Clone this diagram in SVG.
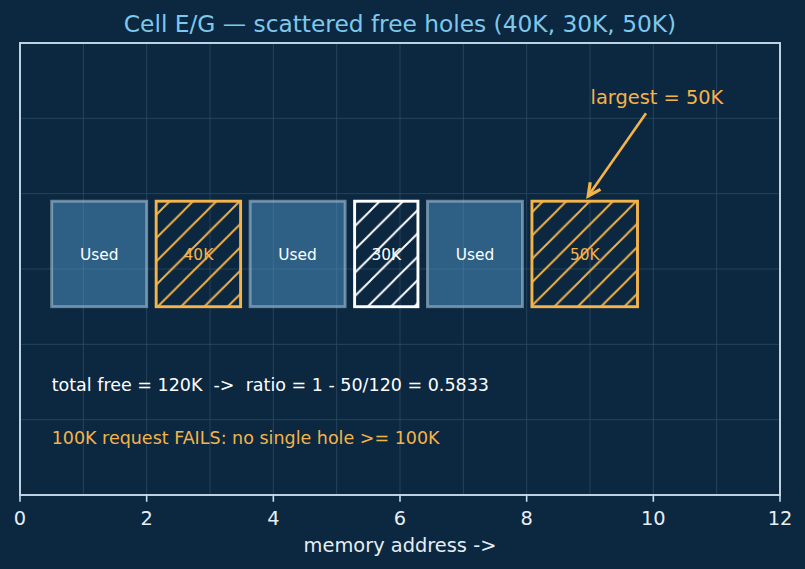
<svg xmlns="http://www.w3.org/2000/svg" width="805" height="569" viewBox="0 0 805 569">
<style>
  text { font-family: "DejaVu Sans", "Liberation Sans", sans-serif; }
  .grid { stroke: #2f4f68; stroke-width: 0.9; opacity: 0.8; }
  .spine { stroke: #c6dcec; stroke-width: 1.9; fill: none; }
  .tick { stroke: #c6dcec; stroke-width: 1.6; }
  .ticklbl { font-size: 19.4px; fill: #e6eef5; text-anchor: middle; }
  .used rect { fill: #4a8fbf; fill-opacity: 0.55; stroke: #a6c2d6; stroke-opacity: 0.6; stroke-width: 2.9; }
  .used text { font-size: 15.4px; fill: #ffffff; text-anchor: middle; }
  .freeO rect { fill: url(#hatchO); stroke: #f4b44a; stroke-width: 2.9; }
  .freeW rect { fill: url(#hatchW); stroke: #ffffff; stroke-width: 2.9; }
  .freeO text { font-size: 15.4px; fill: #f4b44a; text-anchor: middle; }
  .freeW text { font-size: 15.4px; fill: #ffffff; text-anchor: middle; }
  .note { font-size: 17.5px; }
</style>
<defs>
  <pattern id="hatchO" patternUnits="userSpaceOnUse" x="-2.333" y="0" width="23.333" height="23.333">
    <path d="M-5,5 L5,-5 M0,23.333 L23.333,0 M18.333,28.333 L28.333,18.333" stroke="#f4b44a" stroke-width="1.9"/>
  </pattern>
  <pattern id="hatchW" patternUnits="userSpaceOnUse" x="-2.333" y="0" width="23.333" height="23.333">
    <path d="M-5,5 L5,-5 M0,23.333 L23.333,0 M18.333,28.333 L28.333,18.333" stroke="#ffffff" stroke-width="1.9"/>
  </pattern>
  <marker id="arr" markerUnits="userSpaceOnUse" markerWidth="20" markerHeight="20" viewBox="-12 -8 14 16" refX="0" refY="0" orient="auto">
    <path d="M-10,-5 L0,0 L-10,5" fill="none" stroke="#f4b44a" stroke-width="2.6" stroke-linejoin="miter"/>
  </marker>
</defs>
<rect x="0" y="0" width="805" height="569" fill="#0c2740"/>

<g id="grid">
  <line class="grid" x1="83.33" y1="43" x2="83.33" y2="495"/>
  <line class="grid" x1="146.67" y1="43" x2="146.67" y2="495"/>
  <line class="grid" x1="210" y1="43" x2="210" y2="495"/>
  <line class="grid" x1="273.33" y1="43" x2="273.33" y2="495"/>
  <line class="grid" x1="336.67" y1="43" x2="336.67" y2="495"/>
  <line class="grid" x1="400" y1="43" x2="400" y2="495"/>
  <line class="grid" x1="463.33" y1="43" x2="463.33" y2="495"/>
  <line class="grid" x1="526.67" y1="43" x2="526.67" y2="495"/>
  <line class="grid" x1="590" y1="43" x2="590" y2="495"/>
  <line class="grid" x1="653.33" y1="43" x2="653.33" y2="495"/>
  <line class="grid" x1="716.67" y1="43" x2="716.67" y2="495"/>
  <line class="grid" x1="20" y1="118.33" x2="780" y2="118.33"/>
  <line class="grid" x1="20" y1="193.67" x2="780" y2="193.67"/>
  <line class="grid" x1="20" y1="269" x2="780" y2="269"/>
  <line class="grid" x1="20" y1="344.33" x2="780" y2="344.33"/>
  <line class="grid" x1="20" y1="419.67" x2="780" y2="419.67"/>
</g>

<g id="used1" class="used">
  <rect x="51.67" y="201.2" width="95" height="105.5"/>
  <text x="99.17" y="259.6">Used</text>
</g>
<g id="free40" class="freeO">
  <rect x="156.17" y="201.2" width="84.44" height="105.5"/>
  <text x="198.4" y="259.6">40K</text>
</g>
<g id="used2" class="used">
  <rect x="250.11" y="201.2" width="95" height="105.5"/>
  <text x="297.6" y="259.6">Used</text>
</g>
<g id="free30" class="freeW">
  <rect x="354.61" y="201.2" width="63.33" height="105.5"/>
  <text x="386.28" y="259.6">30K</text>
</g>
<g id="used3" class="used">
  <rect x="427.44" y="201.2" width="95" height="105.5"/>
  <text x="474.94" y="259.6">Used</text>
</g>
<g id="free50" class="freeO">
  <rect x="531.94" y="201.2" width="105.56" height="105.5"/>
  <text x="584.72" y="259.6">50K</text>
</g>

<g id="connectors">
  <line x1="646" y1="113.3" x2="588.2" y2="196" stroke="#f4b44a" stroke-width="2.6" marker-end="url(#arr)"/>
</g>

<g id="label-largest">
  <text x="590.5" y="104" font-size="19.4" fill="#f4b44a">largest = 50K</text>
</g>
<g id="notes">
  <text class="note" x="51.67" y="391" fill="#ffffff" xml:space="preserve">total free = 120K  -&gt;  ratio = 1 - 50/120 = 0.5833</text>
  <text class="note" x="51.67" y="443.5" fill="#f4b44a">100K request FAILS: no single hole &gt;= 100K</text>
</g>

<g id="axes">
  <rect class="spine" x="20" y="43" width="760" height="452"/>
  <line class="tick" x1="20" y1="495" x2="20" y2="501.8"/>
  <line class="tick" x1="146.67" y1="495" x2="146.67" y2="501.8"/>
  <line class="tick" x1="273.33" y1="495" x2="273.33" y2="501.8"/>
  <line class="tick" x1="400" y1="495" x2="400" y2="501.8"/>
  <line class="tick" x1="526.67" y1="495" x2="526.67" y2="501.8"/>
  <line class="tick" x1="653.33" y1="495" x2="653.33" y2="501.8"/>
  <line class="tick" x1="780" y1="495" x2="780" y2="501.8"/>
  <text class="ticklbl" x="20" y="525">0</text>
  <text class="ticklbl" x="146.67" y="525">2</text>
  <text class="ticklbl" x="273.33" y="525">4</text>
  <text class="ticklbl" x="400" y="525">6</text>
  <text class="ticklbl" x="526.67" y="525">8</text>
  <text class="ticklbl" x="653.33" y="525">10</text>
  <text class="ticklbl" x="780" y="525">12</text>
  <text x="400" y="552" font-size="19.4" fill="#e6eef5" text-anchor="middle">memory address -&gt;</text>
</g>

<g id="title">
  <text x="400" y="32" font-size="23.3" fill="#7ec8ec" text-anchor="middle">Cell E/G — scattered free holes (40K, 30K, 50K)</text>
</g>
</svg>
